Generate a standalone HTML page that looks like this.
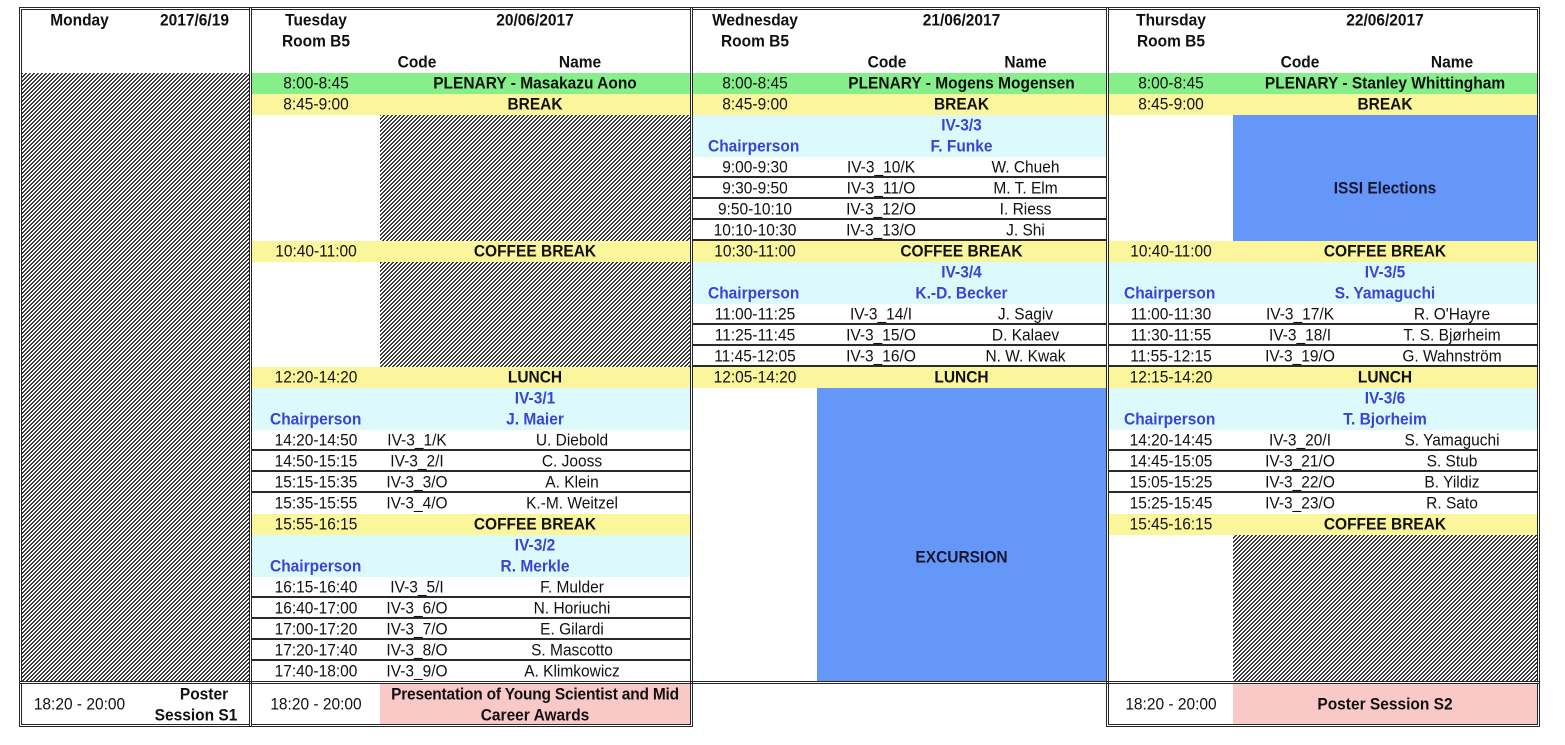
<!DOCTYPE html>
<html><head><meta charset="utf-8"><style>
body{margin:0;width:1565px;height:745px;background:#fff;position:relative;overflow:hidden;font-family:"Liberation Sans",Arial,sans-serif;font-size:15.5px;color:#111}
div{position:absolute}
svg{position:absolute;left:0;top:0}
.x{height:21px;line-height:21px;text-align:center;white-space:nowrap;transform:scaleY(1.08)}
.b{font-weight:bold}
.u{color:#3a43d6;font-weight:bold}
.l{text-align:left}
.ln{height:2px;background:#2a2a2a}
.p{border:3px double #262626;box-sizing:border-box}
.g{background:#86ef8a}.y{background:#fbf59b}.c{background:#dcfafc}.bl{background:#6597f8}.pk{background:#f8c9c7}
.tt{left:252px;width:128px}.tc{left:380px;width:74px}.tn{left:454px;width:236px}.tm{left:380px;width:310px}
.wt{left:693px;width:124px}.wc{left:817px;width:128px}.wn{left:945px;width:161px}.wm{left:817px;width:289px}
.ht{left:1109px;width:124px}.hc{left:1233px;width:134px}.hn{left:1367px;width:170px}.hm{left:1233px;width:304px}
</style></head><body>

<!-- Tuesday fills -->
<div class="g" style="left:252px;top:73px;width:438px;height:21px"></div>
<div class="y" style="left:252px;top:94px;width:438px;height:21px"></div>
<div class="y" style="left:252px;top:241px;width:438px;height:21px"></div>
<div class="y" style="left:252px;top:367px;width:438px;height:21px"></div>
<div class="c" style="left:252px;top:388px;width:438px;height:42px"></div>
<div class="y" style="left:252px;top:514px;width:438px;height:21px"></div>
<div class="c" style="left:252px;top:535px;width:438px;height:42px"></div>
<div class="pk" style="left:380px;top:684px;width:310px;height:40px"></div>

<!-- Wednesday fills -->
<div class="g" style="left:693px;top:73px;width:413px;height:21px"></div>
<div class="y" style="left:693px;top:94px;width:413px;height:21px"></div>
<div class="c" style="left:693px;top:115px;width:413px;height:42px"></div>
<div class="y" style="left:693px;top:241px;width:413px;height:21px"></div>
<div class="c" style="left:693px;top:262px;width:413px;height:42px"></div>
<div class="y" style="left:693px;top:367px;width:413px;height:21px"></div>
<div class="bl" style="left:817px;top:388px;width:289px;height:294px"></div>

<!-- Thursday fills -->
<div class="g" style="left:1109px;top:73px;width:428px;height:21px"></div>
<div class="y" style="left:1109px;top:94px;width:428px;height:21px"></div>
<div class="bl" style="left:1233px;top:115px;width:304px;height:126px"></div>
<div class="y" style="left:1109px;top:241px;width:428px;height:21px"></div>
<div class="c" style="left:1109px;top:262px;width:428px;height:42px"></div>
<div class="y" style="left:1109px;top:367px;width:428px;height:21px"></div>
<div class="c" style="left:1109px;top:388px;width:428px;height:42px"></div>
<div class="y" style="left:1109px;top:514px;width:428px;height:21px"></div>
<div class="pk" style="left:1233px;top:684px;width:304px;height:40px"></div>

<!-- hatch areas -->
<svg width="1565" height="745" viewBox="0 0 1565 745" shape-rendering="crispEdges">
<defs>
<pattern id="hp" width="4" height="4" patternUnits="userSpaceOnUse">
<rect x="2" y="0" width="2" height="1" fill="#3c3c3c"/>
<rect x="1" y="1" width="2" height="1" fill="#3c3c3c"/>
<rect x="0" y="2" width="2" height="1" fill="#3c3c3c"/>
<rect x="0" y="3" width="1" height="1" fill="#3c3c3c"/>
<rect x="3" y="3" width="1" height="1" fill="#3c3c3c"/>
</pattern>
</defs>
<rect x="22" y="73" width="227" height="608" fill="url(#hp)"/>
<rect x="380" y="115" width="310" height="126" fill="url(#hp)"/>
<rect x="380" y="262" width="310" height="105" fill="url(#hp)"/>
<rect x="1233" y="535" width="304" height="147" fill="url(#hp)"/>
</svg>

<!-- row lines -->
<div class="ln" style="left:252px;top:449px;width:438px"></div>
<div class="ln" style="left:252px;top:470px;width:438px"></div>
<div class="ln" style="left:252px;top:491px;width:438px"></div>
<div class="ln" style="left:252px;top:596px;width:438px"></div>
<div class="ln" style="left:252px;top:617px;width:438px"></div>
<div class="ln" style="left:252px;top:638px;width:438px"></div>
<div class="ln" style="left:252px;top:659px;width:438px"></div>

<div class="ln" style="left:693px;top:176px;width:413px"></div>
<div class="ln" style="left:693px;top:197px;width:413px"></div>
<div class="ln" style="left:693px;top:218px;width:413px"></div>
<div class="ln" style="left:693px;top:239px;width:413px"></div>
<div class="ln" style="left:693px;top:323px;width:413px"></div>
<div class="ln" style="left:693px;top:344px;width:413px"></div>
<div class="ln" style="left:693px;top:365px;width:413px"></div>

<div class="ln" style="left:1109px;top:323px;width:428px"></div>
<div class="ln" style="left:1109px;top:344px;width:428px"></div>
<div class="ln" style="left:1109px;top:365px;width:428px"></div>
<div class="ln" style="left:1109px;top:449px;width:428px"></div>
<div class="ln" style="left:1109px;top:470px;width:428px"></div>
<div class="ln" style="left:1109px;top:491px;width:428px"></div>

<!-- Monday text -->
<div class="x b" style="left:22px;top:10px;width:115px">Monday</div>
<div class="x b" style="left:137px;top:10px;width:115px">2017/6/19</div>
<div class="x" style="left:22px;top:694px;width:115px">18:20 - 20:00</div>
<div class="x b" style="left:164px;top:684px;width:80px">Poster</div>
<div class="x b" style="left:146px;top:705px;width:100px">Session S1</div>

<!-- Tuesday text -->
<div class="x b tt" style="top:10px">Tuesday</div>
<div class="x b tt" style="top:31px">Room B5</div>
<div class="x b tm" style="top:10px">20/06/2017</div>
<div class="x b tc" style="top:52px">Code</div>
<div class="x b" style="left:540px;top:52px;width:80px">Name</div>
<div class="x tt" style="top:73px">8:00-8:45</div><div class="x b tm" style="top:73px">PLENARY - Masakazu Aono</div>
<div class="x tt" style="top:94px">8:45-9:00</div><div class="x b tm" style="top:94px">BREAK</div>
<div class="x tt" style="top:241px">10:40-11:00</div><div class="x b tm" style="top:241px">COFFEE BREAK</div>
<div class="x tt" style="top:367px">12:20-14:20</div><div class="x b tm" style="top:367px">LUNCH</div>
<div class="x u tm" style="top:388px">IV-3/1</div>
<div class="x u l" style="left:270px;top:409px">Chairperson</div><div class="x u tm" style="top:409px">J. Maier</div>
<div class="x tt" style="top:430px">14:20-14:50</div><div class="x tc" style="top:430px">IV-3_1/K</div><div class="x tn" style="top:430px">U. Diebold</div>
<div class="x tt" style="top:451px">14:50-15:15</div><div class="x tc" style="top:451px">IV-3_2/I</div><div class="x tn" style="top:451px">C. Jooss</div>
<div class="x tt" style="top:472px">15:15-15:35</div><div class="x tc" style="top:472px">IV-3_3/O</div><div class="x tn" style="top:472px">A. Klein</div>
<div class="x tt" style="top:493px">15:35-15:55</div><div class="x tc" style="top:493px">IV-3_4/O</div><div class="x tn" style="top:493px">K.-M. Weitzel</div>
<div class="x tt" style="top:514px">15:55-16:15</div><div class="x b tm" style="top:514px">COFFEE BREAK</div>
<div class="x u tm" style="top:535px">IV-3/2</div>
<div class="x u l" style="left:270px;top:556px">Chairperson</div><div class="x u tm" style="top:556px">R. Merkle</div>
<div class="x tt" style="top:577px">16:15-16:40</div><div class="x tc" style="top:577px">IV-3_5/I</div><div class="x tn" style="top:577px">F. Mulder</div>
<div class="x tt" style="top:598px">16:40-17:00</div><div class="x tc" style="top:598px">IV-3_6/O</div><div class="x tn" style="top:598px">N. Horiuchi</div>
<div class="x tt" style="top:619px">17:00-17:20</div><div class="x tc" style="top:619px">IV-3_7/O</div><div class="x tn" style="top:619px">E. Gilardi</div>
<div class="x tt" style="top:640px">17:20-17:40</div><div class="x tc" style="top:640px">IV-3_8/O</div><div class="x tn" style="top:640px">S. Mascotto</div>
<div class="x tt" style="top:661px">17:40-18:00</div><div class="x tc" style="top:661px">IV-3_9/O</div><div class="x tn" style="top:661px">A. Klimkowicz</div>
<div class="x tt" style="top:694px">18:20 - 20:00</div>
<div class="x b tm" style="top:684px;letter-spacing:-0.2px">Presentation of Young Scientist and Mid</div>
<div class="x b tm" style="top:705px">Career Awards</div>

<!-- Wednesday text -->
<div class="x b wt" style="top:10px">Wednesday</div>
<div class="x b wt" style="top:31px">Room B5</div>
<div class="x b wm" style="top:10px">21/06/2017</div>
<div class="x b" style="left:847px;top:52px;width:80px">Code</div>
<div class="x b wn" style="top:52px">Name</div>
<div class="x wt" style="top:73px">8:00-8:45</div><div class="x b wm" style="top:73px">PLENARY - Mogens Mogensen</div>
<div class="x wt" style="top:94px">8:45-9:00</div><div class="x b wm" style="top:94px">BREAK</div>
<div class="x u wm" style="top:115px">IV-3/3</div>
<div class="x u l" style="left:708px;top:136px">Chairperson</div><div class="x u wm" style="top:136px">F. Funke</div>
<div class="x wt" style="top:157px">9:00-9:30</div><div class="x wc" style="top:157px">IV-3_10/K</div><div class="x wn" style="top:157px">W. Chueh</div>
<div class="x wt" style="top:178px">9:30-9:50</div><div class="x wc" style="top:178px">IV-3_11/O</div><div class="x wn" style="top:178px">M. T. Elm</div>
<div class="x wt" style="top:199px">9:50-10:10</div><div class="x wc" style="top:199px">IV-3_12/O</div><div class="x wn" style="top:199px">I. Riess</div>
<div class="x wt" style="top:220px">10:10-10:30</div><div class="x wc" style="top:220px">IV-3_13/O</div><div class="x wn" style="top:220px">J. Shi</div>
<div class="x wt" style="top:241px">10:30-11:00</div><div class="x b wm" style="top:241px">COFFEE BREAK</div>
<div class="x u wm" style="top:262px">IV-3/4</div>
<div class="x u l" style="left:708px;top:283px">Chairperson</div><div class="x u wm" style="top:283px">K.-D. Becker</div>
<div class="x wt" style="top:304px">11:00-11:25</div><div class="x wc" style="top:304px">IV-3_14/I</div><div class="x wn" style="top:304px">J. Sagiv</div>
<div class="x wt" style="top:325px">11:25-11:45</div><div class="x wc" style="top:325px">IV-3_15/O</div><div class="x wn" style="top:325px">D. Kalaev</div>
<div class="x wt" style="top:346px">11:45-12:05</div><div class="x wc" style="top:346px">IV-3_16/O</div><div class="x wn" style="top:346px">N. W. Kwak</div>
<div class="x wt" style="top:367px">12:05-14:20</div><div class="x b wm" style="top:367px">LUNCH</div>
<div class="x b wm" style="top:547px;color:#151530">EXCURSION</div>

<!-- Thursday text -->
<div class="x b ht" style="top:10px">Thursday</div>
<div class="x b ht" style="top:31px">Room B5</div>
<div class="x b hm" style="top:10px">22/06/2017</div>
<div class="x b hc" style="top:52px">Code</div>
<div class="x b hn" style="top:52px">Name</div>
<div class="x ht" style="top:73px">8:00-8:45</div><div class="x b hm" style="top:73px">PLENARY - Stanley Whittingham</div>
<div class="x ht" style="top:94px">8:45-9:00</div><div class="x b hm" style="top:94px">BREAK</div>
<div class="x b hm" style="top:178px;color:#151530">ISSI Elections</div>
<div class="x ht" style="top:241px">10:40-11:00</div><div class="x b hm" style="top:241px">COFFEE BREAK</div>
<div class="x u hm" style="top:262px">IV-3/5</div>
<div class="x u l" style="left:1124px;top:283px">Chairperson</div><div class="x u hm" style="top:283px">S. Yamaguchi</div>
<div class="x ht" style="top:304px">11:00-11:30</div><div class="x hc" style="top:304px">IV-3_17/K</div><div class="x hn" style="top:304px">R. O'Hayre</div>
<div class="x ht" style="top:325px">11:30-11:55</div><div class="x hc" style="top:325px">IV-3_18/I</div><div class="x hn" style="top:325px">T. S. Bjørheim</div>
<div class="x ht" style="top:346px">11:55-12:15</div><div class="x hc" style="top:346px">IV-3_19/O</div><div class="x hn" style="top:346px">G. Wahnström</div>
<div class="x ht" style="top:367px">12:15-14:20</div><div class="x b hm" style="top:367px">LUNCH</div>
<div class="x u hm" style="top:388px">IV-3/6</div>
<div class="x u l" style="left:1124px;top:409px">Chairperson</div><div class="x u hm" style="top:409px">T. Bjorheim</div>
<div class="x ht" style="top:430px">14:20-14:45</div><div class="x hc" style="top:430px">IV-3_20/I</div><div class="x hn" style="top:430px">S. Yamaguchi</div>
<div class="x ht" style="top:451px">14:45-15:05</div><div class="x hc" style="top:451px">IV-3_21/O</div><div class="x hn" style="top:451px">S. Stub</div>
<div class="x ht" style="top:472px">15:05-15:25</div><div class="x hc" style="top:472px">IV-3_22/O</div><div class="x hn" style="top:472px">B. Yildiz</div>
<div class="x ht" style="top:493px">15:25-15:45</div><div class="x hc" style="top:493px">IV-3_23/O</div><div class="x hn" style="top:493px">R. Sato</div>
<div class="x ht" style="top:514px">15:45-16:15</div><div class="x b hm" style="top:514px">COFFEE BREAK</div>
<div class="x ht" style="top:694px">18:20 - 20:00</div>
<div class="x b hm" style="top:694px">Poster Session S2</div>

<!-- panel borders -->
<div class="p" style="left:19px;top:7px;width:233px;height:677px"></div>
<div class="p" style="left:19px;top:681px;width:233px;height:46px"></div>
<div class="p" style="left:249px;top:7px;width:444px;height:677px"></div>
<div class="p" style="left:249px;top:681px;width:444px;height:46px"></div>
<div class="p" style="left:690px;top:7px;width:419px;height:677px"></div>
<div class="p" style="left:1106px;top:7px;width:434px;height:677px"></div>
<div class="p" style="left:1106px;top:681px;width:434px;height:46px"></div>

</body></html>
